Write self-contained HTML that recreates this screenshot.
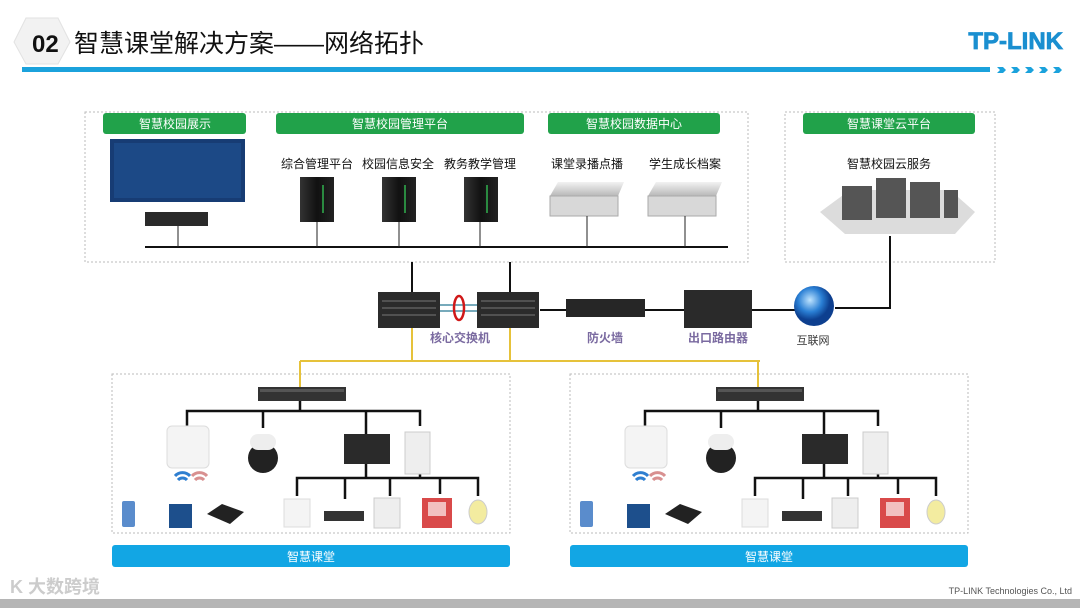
<!DOCTYPE html>
<html><head><meta charset="utf-8"><style>
html,body{margin:0;padding:0;background:#fff;width:1080px;height:608px;overflow:hidden}
svg{display:block}
text{font-family:"Liberation Sans","Noto Sans CJK SC",sans-serif}
</style></head><body>
<svg width="1080" height="608" viewBox="0 0 1080 608" xmlns="http://www.w3.org/2000/svg">
<defs>
<linearGradient id="sv" x1="0" x2="1"><stop offset="0" stop-color="#333"/><stop offset=".5" stop-color="#111"/><stop offset="1" stop-color="#222"/></linearGradient>
<linearGradient id="rk" x1="0" y1="0" x2="0" y2="1"><stop offset="0" stop-color="#f2f2f2"/><stop offset="1" stop-color="#b8b8b8"/></linearGradient>
<radialGradient id="gl" cx=".4" cy=".35"><stop offset="0" stop-color="#bfe4ff"/><stop offset=".6" stop-color="#2a7fd4"/><stop offset="1" stop-color="#0d3f8f"/></radialGradient>
<g id="cls">
<rect x="0" y="0" width="398" height="159" fill="none" stroke="#bbb" stroke-dasharray="2,2"/>
<rect x="0" y="171" width="398" height="22" rx="3" fill="#12a6e4"/>
<text x="199" y="187" font-size="12" fill="#fff" text-anchor="middle">智慧课堂</text>
<line x1="188" y1="-13" x2="188" y2="14" stroke="#e6c23a" stroke-width="2"/>
<rect x="146" y="13" width="88" height="14" fill="#333"/><rect x="148" y="15" width="84" height="3" fill="#555"/>
<g stroke="#111" stroke-width="2.5" fill="none">
<line x1="188" y1="27" x2="188" y2="37"/>
<polyline points="75,52 75,37 308,37 308,52"/>
<line x1="151" y1="37" x2="151" y2="54"/><line x1="254" y1="37" x2="254" y2="60"/>
<line x1="254" y1="88" x2="254" y2="104"/><line x1="308" y1="100" x2="308" y2="104"/>
<polyline points="185,122 185,104 366,104 366,122"/>
<line x1="233" y1="104" x2="233" y2="125"/><line x1="278" y1="104" x2="278" y2="122"/><line x1="328" y1="104" x2="328" y2="120"/>
</g>
<rect x="55" y="52" width="42" height="42" rx="5" fill="#f4f4f4" stroke="#ddd"/>
<path d="M63 102 a10 10 0 0 1 15 0 M66 106 a6 6 0 0 1 9 0" stroke="#2f7fd0" stroke-width="3" fill="none"/>
<path d="M80 102 a10 10 0 0 1 15 0 M83 106 a6 6 0 0 1 9 0" stroke="#d89090" stroke-width="3" fill="none"/>
<circle cx="151" cy="84" r="15" fill="#222"/><rect x="138" y="60" width="26" height="16" rx="8" fill="#eee"/>
<rect x="232" y="60" width="46" height="30" fill="#2a2a2a"/>
<rect x="293" y="58" width="25" height="42" fill="#eee" stroke="#ccc"/>
<rect x="10" y="127" width="13" height="26" rx="2" fill="#5a8ccc"/>
<rect x="57" y="130" width="23" height="24" fill="#1d4f8c"/>
<path d="M95 140 l15 -10 l22 8 l-14 12 z" fill="#222"/>
<rect x="172" y="125" width="26" height="28" fill="#f4f4f4" stroke="#ddd"/>
<rect x="212" y="137" width="40" height="10" fill="#333"/>
<rect x="262" y="124" width="26" height="30" fill="#eee" stroke="#ccc"/>
<rect x="310" y="124" width="30" height="30" fill="#d94a4a"/><rect x="316" y="128" width="18" height="14" fill="#f2c0c0"/>
<ellipse cx="366" cy="138" rx="9" ry="12" fill="#f3eca0" stroke="#ccc"/>
</g>
<g id="srv"><rect x="0" y="0" width="34" height="45" fill="url(#sv)"/><rect x="22" y="8" width="2" height="28" fill="#2a8a40"/></g>
<g id="rack"><path d="M0 14 l8 -14 h66 l-6 14 z" fill="url(#rk)"/><rect x="0" y="14" width="68" height="20" fill="#d8d8d8" stroke="#aaa"/></g>
<g id="core"><rect x="0" y="0" width="62" height="36" fill="#2b2b2b"/><g stroke="#777"><line x1="4" y1="9" x2="58" y2="9"/><line x1="4" y1="16" x2="58" y2="16"/><line x1="4" y1="23" x2="58" y2="23"/></g></g>
</defs>

<!-- header -->
<polygon points="14,42 26,18 58,18 70,42 58,64 26,64" fill="#f2f2f2" stroke="#e2e2e2"/>
<text x="32" y="52" font-size="24" font-weight="bold" fill="#111">02</text>
<text x="74" y="52" font-size="25" fill="#111">智慧课堂解决方案——网络拓扑</text>
<rect x="22" y="67" width="968" height="5" fill="#1ba2dc"/>
<g fill="#1ba2dc"><path d="M997 67 h6 l3 3 l-3 3 h-6 l3 -3z"/><path d="M1011 67 h6 l3 3 l-3 3 h-6 l3 -3z"/><path d="M1025 67 h6 l3 3 l-3 3 h-6 l3 -3z"/><path d="M1039 67 h6 l3 3 l-3 3 h-6 l3 -3z"/><path d="M1053 67 h6 l3 3 l-3 3 h-6 l3 -3z"/></g>
<text x="1063" y="49" font-size="24" font-weight="bold" fill="#1a8fd0" text-anchor="end" stroke="#1a8fd0" stroke-width=".8">TP-LINK</text>

<!-- top boxes -->
<rect x="85" y="112" width="663" height="150" fill="none" stroke="#bbb" stroke-dasharray="2,2"/>
<rect x="785" y="112" width="210" height="150" fill="none" stroke="#bbb" stroke-dasharray="2,2"/>
<g fill="#21a24a"><rect x="103" y="113" width="143" height="21" rx="3"/><rect x="276" y="113" width="248" height="21" rx="3"/><rect x="548" y="113" width="172" height="21" rx="3"/><rect x="803" y="113" width="172" height="21" rx="3"/></g>
<g font-size="12" fill="#fff" text-anchor="middle"><text x="175" y="128">智慧校园展示</text><text x="400" y="128">智慧校园管理平台</text><text x="634" y="128">智慧校园数据中心</text><text x="889" y="128">智慧课堂云平台</text></g>
<g font-size="12" fill="#111" text-anchor="middle"><text x="317" y="168">综合管理平台</text><text x="398" y="168">校园信息安全</text><text x="480" y="168">教务教学管理</text><text x="587" y="168">课堂录播点播</text><text x="685" y="168">学生成长档案</text><text x="889" y="168">智慧校园云服务</text></g>
<rect x="110" y="139" width="135" height="63" fill="#173c74"/><rect x="114" y="143" width="127" height="55" fill="#1f4f8e" opacity=".7"/>
<rect x="145" y="212" width="63" height="14" fill="#2a2a2a"/>
<use href="#srv" x="300" y="177"/><use href="#srv" x="382" y="177"/><use href="#srv" x="464" y="177"/>
<use href="#rack" x="550" y="182"/><use href="#rack" x="648" y="182"/>
<path d="M820 212 l30 -22 h100 l25 22 l-20 22 h-110 z" fill="#dcdcdc"/>
<g fill="#555"><rect x="842" y="186" width="30" height="34"/><rect x="876" y="178" width="30" height="40"/><rect x="910" y="182" width="30" height="36"/><rect x="944" y="190" width="14" height="28"/></g>
<g stroke="#111" stroke-width="2"><line x1="145" y1="247" x2="728" y2="247"/></g>
<g stroke="#222" stroke-width="1"><line x1="178" y1="226" x2="178" y2="247"/><line x1="317" y1="222" x2="317" y2="247"/><line x1="399" y1="222" x2="399" y2="247"/><line x1="480" y1="222" x2="480" y2="247"/><line x1="587" y1="216" x2="587" y2="247"/><line x1="685" y1="216" x2="685" y2="247"/></g>
<g stroke="#111" stroke-width="2"><line x1="412" y1="262" x2="412" y2="293"/><line x1="510" y1="262" x2="510" y2="293"/>
<polyline points="890,236 890,308 835,308" fill="none"/>
<line x1="540" y1="310" x2="566" y2="310"/><line x1="645" y1="310" x2="684" y2="310"/><line x1="752" y1="310" x2="795" y2="310"/></g>

<!-- core -->
<use href="#core" x="378" y="292"/><use href="#core" x="477" y="292"/>
<line x1="440" y1="305" x2="477" y2="305" stroke="#7ab" stroke-width="2"/><line x1="440" y1="311" x2="477" y2="311" stroke="#7ab" stroke-width="2"/>
<ellipse cx="459" cy="308" rx="5" ry="12" fill="none" stroke="#d01818" stroke-width="2.5"/>
<rect x="566" y="299" width="79" height="18" fill="#262626"/>
<rect x="684" y="290" width="68" height="38" fill="#2a2a2a"/>
<circle cx="814" cy="306" r="20" fill="url(#gl)"/>
<g font-size="12" fill="#7a6aa0" text-anchor="middle" font-weight="bold"><text x="460" y="342">核心交换机</text><text x="605" y="342">防火墙</text><text x="718" y="342">出口路由器</text></g>
<text x="813" y="344" font-size="11" fill="#333" text-anchor="middle">互联网</text>

<g stroke="#e6c23a" stroke-width="2" fill="none"><line x1="412" y1="328" x2="412" y2="361"/><line x1="510" y1="328" x2="510" y2="361"/><line x1="300" y1="361" x2="760" y2="361"/></g>

<use href="#cls" x="112" y="374"/>
<use href="#cls" x="570" y="374"/>

<!-- footer -->
<text x="1072" y="594" font-size="9" fill="#555" text-anchor="end">TP-LINK Technologies Co., Ltd</text>
<text x="10" y="593" font-size="18" fill="#ccc" font-weight="bold">K 大数跨境</text>
<rect x="0" y="599" width="1080" height="9" fill="#b5b5b5"/>
</svg>
</body></html>
